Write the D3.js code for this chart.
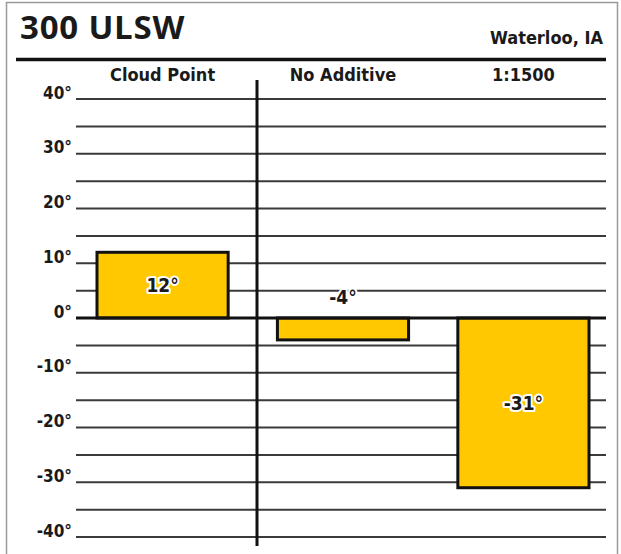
<!DOCTYPE html>
<html>
<head>
<meta charset="utf-8">
<script src="https://cdn.jsdelivr.net/npm/d3@7"></script>
<style>
  html, body { margin: 0; padding: 0; background: #fff; }
  svg { display: block; }
  .cond { font-family: "DejaVu Sans Condensed", "Liberation Sans Narrow", "Arial Narrow", sans-serif; font-weight: bold; font-stretch: condensed; }
</style>
</head>
<body>
<svg id="chart" width="621" height="554"></svg>
<script>
// Cloud point test results, degrees
const categories = ["Cloud Point", "No Additive", "1:1500"];
const values = [12, -4, -31];
const valueLabels = ["12°", "-4°", "-31°"];
const tickValues = [40, 30, 20, 10, 0, -10, -20, -30, -40];
const tickLabels = ["40°", "30°", "20°", "10°", "0°", "-10°", "-20°", "-30°", "-40°"];
const gridValues = d3.range(-40, 41, 5);
const chartTitle = "300 ULSW";
const siteName = "Waterloo, IA";

const svg = d3.select("#chart");

// outer frame
svg.append("rect")
  .attr("x", 6.5).attr("y", 2.5)
  .attr("width", 611).attr("height", 560)
  .attr("fill", "none").attr("stroke", "#9a9a9a").attr("stroke-width", 1.5);

// header
svg.append("text")
  .attr("x", 20).attr("y", 39)
  .attr("font-family", "'Open Sans', sans-serif")
  .attr("font-weight", "bold")
  .attr("font-size", 33)
  .attr("letter-spacing", 0.8)
  .attr("fill", "#1a1a1a")
  .text(chartTitle);

svg.append("text")
  .attr("class", "cond")
  .attr("x", 603).attr("y", 44)
  .attr("text-anchor", "end")
  .attr("font-size", 18)
  .attr("fill", "#1a1a1a")
  .text(siteName);

svg.append("line")
  .attr("x1", 16).attr("x2", 606)
  .attr("y1", 59.5).attr("y2", 59.5)
  .attr("stroke", "#111").attr("stroke-width", 3.5);

// scales
const y = d3.scaleLinear().domain([-40, 40]).range([537, 99]);
const x = d3.scaleBand()
  .domain(categories)
  .range([97, 589])
  .paddingInner(0.273)
  .paddingOuter(0);

const gridX0 = 76, gridX1 = 606;

// horizontal grid lines every 5 degrees
svg.append("g").selectAll("line")
  .data(gridValues.filter(v => v !== 0))
  .join("line")
  .attr("x1", gridX0).attr("x2", gridX1)
  .attr("y1", d => y(d)).attr("y2", d => y(d))
  .attr("stroke", "#3a3a3a").attr("stroke-width", 2);

// y axis tick labels
const yAxis = d3.axisLeft(y)
  .tickValues(tickValues)
  .tickSize(0)
  .tickPadding(0)
  .tickFormat((d, i) => tickLabels[i]);

const gy = svg.append("g")
  .attr("transform", `translate(${gridX0 - 4},0)`)
  .call(yAxis);
gy.select(".domain").remove();
gy.selectAll("text")
  .attr("class", "cond")
  .attr("font-size", 17)
  .attr("fill", "#1a1a1a")
  .attr("dy", "-0.05em");

// category labels
svg.append("g").selectAll("text")
  .data(categories)
  .join("text")
  .attr("class", "cond")
  .attr("x", d => x(d) + x.bandwidth() / 2)
  .attr("y", 81)
  .attr("text-anchor", "middle")
  .attr("font-size", 18)
  .attr("fill", "#1a1a1a")
  .text(d => d);

// bars
svg.append("g").selectAll("rect")
  .data(values)
  .join("rect")
  .attr("x", (d, i) => x(categories[i]))
  .attr("width", x.bandwidth())
  .attr("y", d => y(Math.max(0, d)))
  .attr("height", d => Math.abs(y(d) - y(0)))
  .attr("fill", "#ffc800")
  .attr("stroke", "#111")
  .attr("stroke-width", 3);

// zero line and vertical divider
svg.append("line")
  .attr("x1", gridX0).attr("x2", gridX1)
  .attr("y1", y(0)).attr("y2", y(0))
  .attr("stroke", "#111").attr("stroke-width", 3);

svg.append("line")
  .attr("x1", 257).attr("x2", 257)
  .attr("y1", 80).attr("y2", 546)
  .attr("stroke", "#111").attr("stroke-width", 3);

// value labels: inside tall bars, above short ones
const labelY = (d) => {
  const span = Math.abs(y(d) - y(0));
  if (span < 40) return y(0) - 21;
  return (y(d) + y(0)) / 2;
};
svg.append("g").selectAll("text")
  .data(values)
  .join("text")
  .attr("class", "cond")
  .attr("x", (d, i) => x(categories[i]) + x.bandwidth() / 2)
  .attr("y", d => labelY(d))
  .attr("dy", "0.35em")
  .attr("text-anchor", "middle")
  .attr("font-size", 19)
  .attr("fill", "#1a1a1a")
  .attr("stroke", "#fff")
  .attr("stroke-width", 4)
  .attr("paint-order", "stroke")
  .attr("stroke-linejoin", "round")
  .text((d, i) => valueLabels[i]);
</script>
</body>
</html>
